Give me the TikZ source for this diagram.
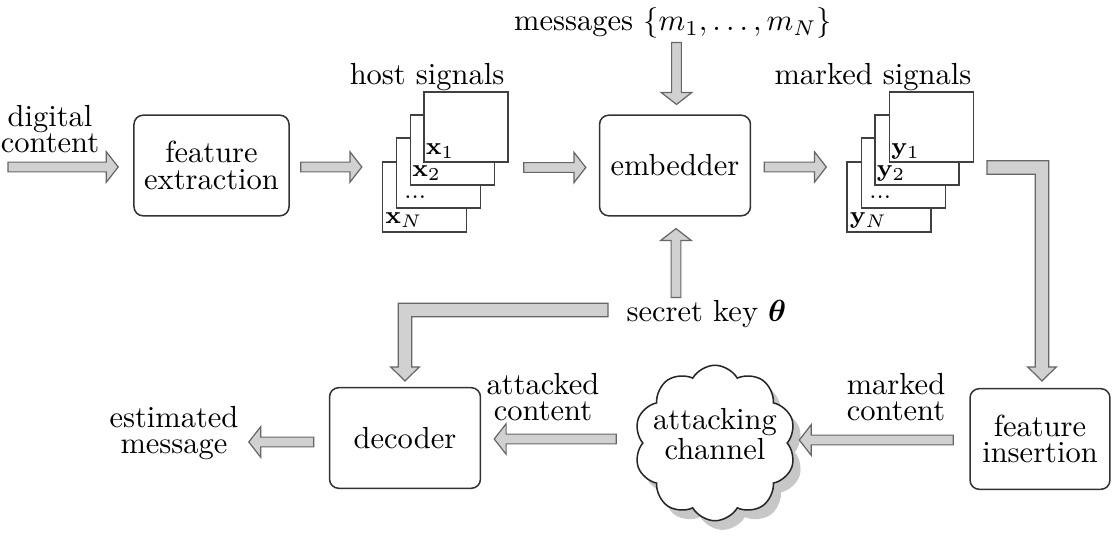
\documentclass[tikz,border=0pt]{standalone}
\usepackage{amsmath}
\usepackage{bm}
\usetikzlibrary{calc,shapes.symbols,shadows}
\def\fsw{1.6pt}
\def\fhw{5.0pt}
\def\fhl{3.9pt}
\def\lsw{2.2pt}
\def\lhw{4.7pt}
\def\lhl{4.6pt}
\newcommand{\fatR}[2]{\draw[fat] let \p1=(#1),\p2=(#2) in (\x1,\y1+\fsw) -- (\x2-\fhl,\y1+\fsw) -- (\x2-\fhl,\y1+\fhw) -- (\x2,\y1) -- (\x2-\fhl,\y1-\fhw) -- (\x2-\fhl,\y1-\fsw) -- (\x1,\y1-\fsw) -- cycle;}
\newcommand{\fatL}[2]{\draw[fat] let \p1=(#1),\p2=(#2) in (\x1,\y1+\fsw) -- (\x2+\fhl,\y1+\fsw) -- (\x2+\fhl,\y1+\fhw) -- (\x2,\y1) -- (\x2+\fhl,\y1-\fhw) -- (\x2+\fhl,\y1-\fsw) -- (\x1,\y1-\fsw) -- cycle;}
\newcommand{\fatD}[2]{\draw[fat] let \p1=(#1),\p2=(#2) in (\x1-\fsw,\y1) -- (\x1-\fsw,\y2+\fhl) -- (\x1-\fhw,\y2+\fhl) -- (\x1,\y2) -- (\x1+\fhw,\y2+\fhl) -- (\x1+\fsw,\y2+\fhl) -- (\x1+\fsw,\y1) -- cycle;}
\newcommand{\fatU}[2]{\draw[fat] let \p1=(#1),\p2=(#2) in (\x1-\fsw,\y1) -- (\x1-\fsw,\y2-\fhl) -- (\x1-\fhw,\y2-\fhl) -- (\x1,\y2) -- (\x1+\fhw,\y2-\fhl) -- (\x1+\fsw,\y2-\fhl) -- (\x1+\fsw,\y1) -- cycle;}
\tikzset{
  box/.style={draw=black!80, line width=0.5pt, rounded corners=3pt, minimum width=49.5pt, minimum height=33pt, align=center, font=\fontsize{10}{8.6}\selectfont},
  sig/.style={draw=black!75, line width=0.4pt, fill=white, minimum width=27.6pt, minimum height=23pt, inner sep=0pt},
  sigl/.style={anchor=base west, inner sep=0pt, font=\footnotesize},
  fat/.style={draw=black!60, fill=black!18, line width=0.4pt},
  txt/.style={align=center, inner sep=0pt, font=\fontsize{10}{8.6}\selectfont},
  lbl/.style={anchor=base east, inner sep=0pt},
}
\begin{document}
\begin{tikzpicture}[x=0.328pt,y=-0.328pt]
\useasboundingbox (0,0) rectangle (1120,540);
% boxes
\node[box] (fe) at (211.5,165.5) {feature\\extraction};
\node[box] (emb) at (675,165.5) {embedder};
\node[box] (dec) at (405,438) {decoder};
\node[box, minimum width=45.9pt] (fi) at (1040,439) {feature\\insertion};
% host signal stack
\node[sig] (hs4) at (424.5,197) {};
\node[sigl] at ($(hs4.south west)+(3,-9)$) {$\mathbf{x}_N$};
\node[sig] (hs3) at (438.5,173) {};
\node[sigl] at ($(hs3.south west)+(8,-10)$) {...};
\node[sig] (hs2) at (452.5,150) {};
\node[sigl] at ($(hs2.south west)+(2,-9)$) {$\mathbf{x}_2$};
\node[sig] (hs1) at (466,127) {};
\node[sigl] at ($(hs1.south west)+(2,-8)$) {$\mathbf{x}_1$};
\node[lbl] (hsl) at (505,84) {host signals};
% marked signal stack
\node[sig] (ms4) at (889,197) {};
\node[sigl] at ($(ms4.south west)+(3,-9)$) {$\mathbf{y}_N$};
\node[sig] (ms3) at (903.5,173) {};
\node[sigl] at ($(ms3.south west)+(8,-10)$) {...};
\node[sig] (ms2) at (917,150) {};
\node[sigl] at ($(ms2.south west)+(2,-9)$) {$\mathbf{y}_2$};
\node[sig] (ms1) at (931.5,127) {};
\node[sigl] at ($(ms1.south west)+(2,-8)$) {$\mathbf{y}_1$};
\node[lbl] (msl) at (972,84) {marked signals};
% texts
\node[txt] (dc) at (50,129) {digital\\content};
\node[txt] (msg) at (673,23) {messages $\{m_1,\ldots,m_N\}$};
\node[anchor=base west, inner sep=0pt] (key) at (626,321) {secret key $\bm{\theta}$};
\node[txt] (mc) at (896,397) {marked\\content};
\node[txt] (ac) at (543,397) {attacked\\content};
\node[txt] (em) at (174,433) {estimated\\message};
% cloud
\node[cloud, cloud puffs=10, cloud puff arc=120, aspect=1, draw=black!85, line width=0.5pt, fill=white,
  minimum width=53pt, minimum height=51pt, inner sep=0pt,
  drop shadow={shadow xshift=2.5pt, shadow yshift=-3pt, opacity=1, fill=black!22}] (ch) at (715,443) {};
\node[txt] (cht) at (715,434) {attacking\\channel};
% straight fat arrows
\coordinate (dcin) at (8,167);
\fatR{dcin}{$(fe.west)+(-15,0)$}
\fatR{$(fe.east)+(11,1.5)$}{$(hs4.west)+(-20,0)$}
\fatR{$(hs1.east)+(15,40.5)$}{$(emb.west)+(-13,0)$}
\fatR{$(emb.east)+(13,1.5)$}{$(ms4.west)+(-20,0)$}
\fatD{$(emb.north)+(1.5,-72)$}{$(emb.north)+(1.5,-10)$}
\fatU{$(emb.south)+(1,81)$}{$(emb.south)+(1,12)$}
\fatL{$(fi.west)+(-16,1)$}{$(fi.west)+(-170,1)$}
\fatL{$(dec.east)+(135,1)$}{$(dec.east)+(13,1)$}
\fatL{$(dec.west)+(-15,4)$}{$(dec.west)+(-80,4)$}
% L-shaped arrows
\coordinate (kA) at (608,310);
\coordinate (kB) at ($(dec.north)+(0,-6)$);
\draw[fat] let \p1=(kA),\p2=(kB) in (\x1,\y1+\lsw) -- (\x2-\lsw,\y1+\lsw) -- (\x2-\lsw,\y2+\lhl) -- (\x2-\lhw,\y2+\lhl) -- (\x2,\y2) -- (\x2+\lhw,\y2+\lhl) -- (\x2+\lsw,\y2+\lhl) -- (\x2+\lsw,\y1-\lsw) -- (\x1,\y1-\lsw) -- cycle;
\coordinate (mA) at (987,167.5);
\coordinate (mB) at ($(fi.north)+(2,-7)$);
\draw[fat] let \p1=(mA),\p2=(mB) in (\x1,\y1+\lsw) -- (\x2+\lsw,\y1+\lsw) -- (\x2+\lsw,\y2+\lhl) -- (\x2+\lhw,\y2+\lhl) -- (\x2,\y2) -- (\x2-\lhw,\y2+\lhl) -- (\x2-\lsw,\y2+\lhl) -- (\x2-\lsw,\y1-\lsw) -- (\x1,\y1-\lsw) -- cycle;
\end{tikzpicture}
\end{document}
